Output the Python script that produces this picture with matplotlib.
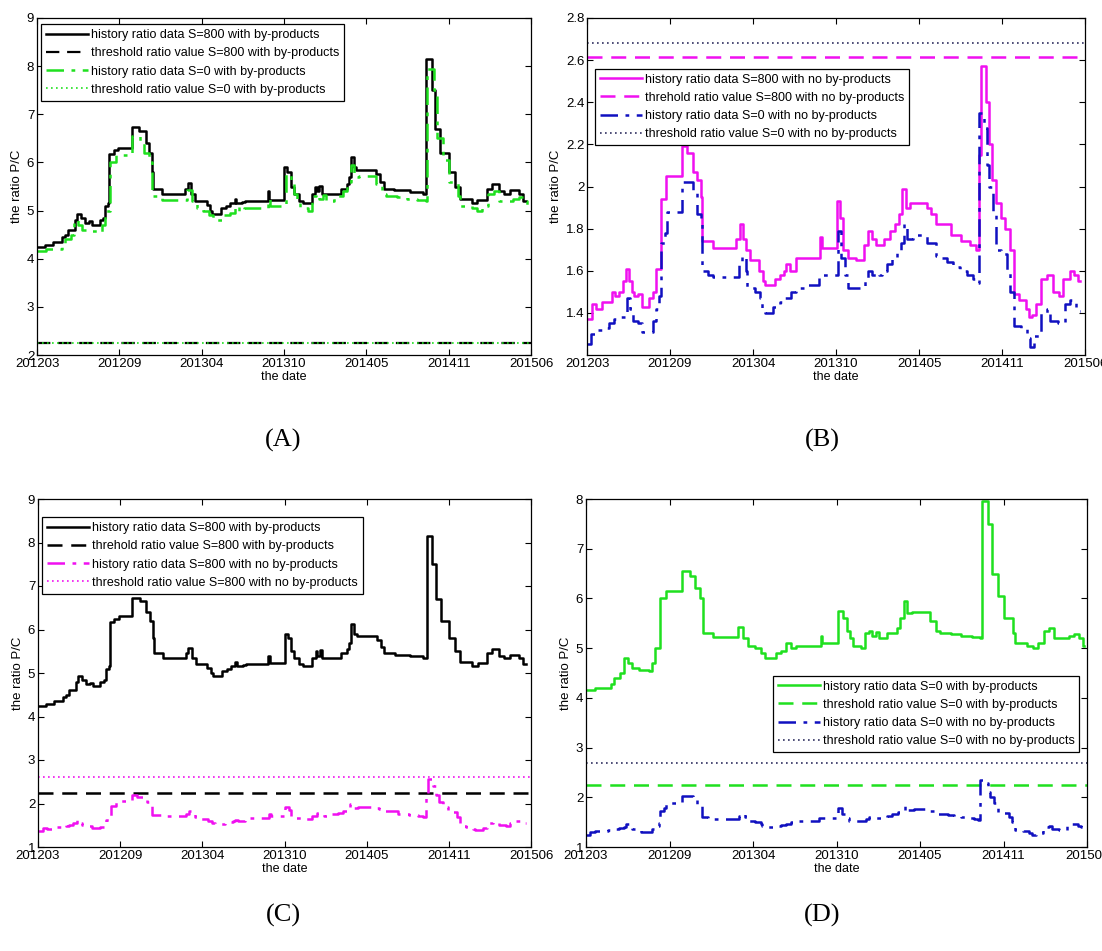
import matplotlib
matplotlib.use("Agg")
import matplotlib.pyplot as plt

plt.rcParams['font.family'] = ['Liberation Sans Narrow', 'Liberation Sans', 'DejaVu Sans']

# ---------------- data ----------------
date_labels = ['201203', '201209', '201304', '201310', '201405', '201411', '201506']

# positions are in units of the date ticks (0 = 201203 ... 6 = 201506)
s800_by_x = [0.00, 0.10, 0.19, 0.30, 0.34, 0.38, 0.46, 0.49, 0.53, 0.58, 0.63, 0.67, 0.76, 0.80,
             0.83, 0.86, 0.88, 0.93, 0.98, 1.15, 1.24, 1.32, 1.36, 1.40, 1.41, 1.52, 1.80, 1.83,
             1.87, 1.92, 2.06, 2.10, 2.13, 2.24, 2.30, 2.35, 2.40, 2.42, 2.49, 2.53, 2.80, 2.82,
             3.00, 3.04, 3.08, 3.12, 3.18, 3.23, 3.34, 3.38, 3.40, 3.43, 3.46, 3.69, 3.76, 3.79,
             3.81, 3.85, 3.88, 4.12, 4.17, 4.21, 4.34, 4.53, 4.69, 4.73, 4.80, 4.84, 4.90, 5.00,
             5.08, 5.14, 5.28, 5.35, 5.46, 5.53, 5.61, 5.67, 5.75, 5.86, 5.90, 5.94]
s800_by_y = [4.25, 4.28, 4.35, 4.45, 4.50, 4.60, 4.80, 4.93, 4.85, 4.75, 4.78, 4.70, 4.80, 4.85,
             5.10, 5.15, 6.18, 6.25, 6.30, 6.73, 6.65, 6.40, 6.20, 5.80, 5.45, 5.35, 5.45, 5.58,
             5.35, 5.20, 5.12, 5.00, 4.93, 5.05, 5.10, 5.15, 5.25, 5.15, 5.18, 5.20, 5.40, 5.22,
             5.90, 5.80, 5.50, 5.35, 5.20, 5.15, 5.35, 5.50, 5.40, 5.52, 5.35, 5.45, 5.55, 5.70,
             6.12, 5.90, 5.85, 5.75, 5.60, 5.45, 5.42, 5.38, 5.35, 8.15, 7.50, 6.70, 6.20, 5.80,
             5.50, 5.25, 5.15, 5.22, 5.45, 5.55, 5.40, 5.35, 5.42, 5.35, 5.20, 5.20]

s0_by_x = [0.00, 0.11, 0.30, 0.34, 0.41, 0.45, 0.50, 0.55, 0.63, 0.75, 0.79, 0.83, 0.89, 0.96,
           1.15, 1.25, 1.30, 1.36, 1.40, 1.52, 1.82, 1.88, 1.94, 2.02, 2.09, 2.14, 2.27, 2.34,
           2.40, 2.45, 2.52, 2.81, 2.83, 3.02, 3.08, 3.12, 3.16, 3.20, 3.29, 3.34, 3.39, 3.43,
           3.47, 3.51, 3.61, 3.72, 3.76, 3.81, 3.85, 3.91, 4.12, 4.19, 4.24, 4.37, 4.49, 4.62,
           4.72, 4.74, 4.82, 4.86, 4.93, 5.01, 5.11, 5.14, 5.28, 5.35, 5.41, 5.48, 5.55, 5.61,
           5.71, 5.78, 5.85, 5.91, 5.95, 5.97]
s0_by_y = [4.15, 4.20, 4.28, 4.40, 4.50, 4.80, 4.70, 4.60, 4.57, 4.55, 4.70, 5.00, 6.00, 6.15,
           6.55, 6.45, 6.20, 6.00, 5.30, 5.22, 5.42, 5.20, 5.05, 5.00, 4.90, 4.80, 4.90, 4.95,
           5.10, 5.00, 5.05, 5.25, 5.10, 5.75, 5.60, 5.35, 5.20, 5.05, 5.00, 5.30, 5.35, 5.25,
           5.32, 5.20, 5.30, 5.40, 5.60, 5.95, 5.70, 5.72, 5.55, 5.35, 5.30, 5.28, 5.25, 5.22,
           5.20, 7.95, 7.50, 6.50, 6.05, 5.60, 5.30, 5.10, 5.05, 5.00, 5.10, 5.35, 5.40, 5.20,
           5.20, 5.25, 5.28, 5.20, 5.05, 5.05]

s800_no_x = [0.00, 0.06, 0.11, 0.18, 0.30, 0.34, 0.38, 0.43, 0.47, 0.50, 0.54, 0.57, 0.61, 0.66,
             0.75, 0.80, 0.83, 0.89, 0.95, 1.15, 1.21, 1.28, 1.33, 1.37, 1.39, 1.52, 1.80, 1.84,
             1.88, 1.91, 1.96, 2.07, 2.12, 2.15, 2.27, 2.33, 2.37, 2.40, 2.44, 2.52, 2.81, 2.83,
             3.01, 3.05, 3.08, 3.14, 3.24, 3.34, 3.39, 3.43, 3.48, 3.58, 3.65, 3.71, 3.76, 3.80,
             3.84, 3.89, 4.10, 4.15, 4.21, 4.38, 4.51, 4.62, 4.69, 4.72, 4.75, 4.81, 4.84, 4.88,
             4.93, 4.99, 5.04, 5.10, 5.14, 5.21, 5.29, 5.32, 5.36, 5.41, 5.47, 5.54, 5.61, 5.69,
             5.74, 5.82, 5.87, 5.91, 5.94]
s800_no_y = [1.37, 1.44, 1.42, 1.45, 1.50, 1.48, 1.50, 1.55, 1.61, 1.55, 1.50, 1.48, 1.49, 1.43,
             1.47, 1.50, 1.61, 1.94, 2.05, 2.19, 2.16, 2.07, 2.03, 1.95, 1.74, 1.71, 1.75, 1.82,
             1.75, 1.70, 1.65, 1.60, 1.55, 1.53, 1.56, 1.58, 1.60, 1.63, 1.60, 1.66, 1.76, 1.71,
             1.93, 1.85, 1.70, 1.66, 1.65, 1.72, 1.79, 1.75, 1.72, 1.75, 1.79, 1.82, 1.87, 1.99,
             1.90, 1.92, 1.90, 1.87, 1.82, 1.77, 1.74, 1.72, 1.70, 2.15, 2.57, 2.40, 2.20, 2.03,
             1.92, 1.85, 1.80, 1.70, 1.49, 1.46, 1.42, 1.38, 1.39, 1.44, 1.56, 1.58, 1.50, 1.48,
             1.56, 1.60, 1.58, 1.55, 1.55]

s0_no_x = [0.00, 0.05, 0.11, 0.20, 0.26, 0.33, 0.40, 0.46, 0.48, 0.52, 0.55, 0.61, 0.66, 0.74,
           0.79, 0.83, 0.87, 0.89, 0.94, 0.96, 1.15, 1.28, 1.33, 1.37, 1.39, 1.46, 1.52, 1.83,
           1.87, 1.91, 1.93, 2.02, 2.09, 2.11, 2.15, 2.24, 2.33, 2.39, 2.46, 2.52, 2.61, 2.79,
           3.02, 3.06, 3.11, 3.15, 3.35, 3.39, 3.43, 3.48, 3.52, 3.56, 3.61, 3.67, 3.74, 3.78,
           3.82, 3.86, 3.93, 4.10, 4.21, 4.28, 4.34, 4.41, 4.49, 4.58, 4.65, 4.69, 4.72, 4.78,
           4.82, 4.84, 4.89, 4.93, 4.99, 5.06, 5.10, 5.14, 5.23, 5.30, 5.34, 5.39, 5.47, 5.54,
           5.58, 5.67, 5.76, 5.82, 5.89, 5.93, 5.94]
s0_no_y = [1.25, 1.30, 1.32, 1.33, 1.35, 1.37, 1.38, 1.40, 1.47, 1.42, 1.36, 1.35, 1.31, 1.31,
           1.36, 1.42, 1.48, 1.73, 1.78, 1.88, 2.02, 1.97, 1.87, 1.85, 1.60, 1.58, 1.57, 1.63,
           1.67, 1.60, 1.52, 1.50, 1.47, 1.42, 1.40, 1.43, 1.45, 1.47, 1.50, 1.52, 1.53, 1.58,
           1.79, 1.66, 1.58, 1.52, 1.56, 1.60, 1.58, 1.59, 1.58, 1.60, 1.63, 1.66, 1.70, 1.73,
           1.82, 1.75, 1.77, 1.73, 1.67, 1.66, 1.64, 1.62, 1.60, 1.58, 1.56, 1.54, 2.35, 2.28,
           2.10, 2.00, 1.88, 1.70, 1.68, 1.60, 1.50, 1.34, 1.33, 1.28, 1.24, 1.29, 1.40, 1.42,
           1.36, 1.35, 1.44, 1.46, 1.43, 1.41, 1.41]

thr_s800_by = 2.25
thr_s0_by = 2.25
thr_s800_no = 2.615
thr_s0_no = 2.68

# ---------------- styles ----------------
BLACK = '#000000'
GREEN = '#1fe01f'
MAGENTA = '#f010f0'
BLUE = '#1010c0'
NAVY = '#303060'
SOLID = '-'
DASH = (0, (6, 3.5))
DASHDOT = (0, (7, 3, 1.5, 3))
DOT = (0, (1, 2))

W, H = 1102, 951
fig = plt.figure(figsize=(W / 100, H / 100), dpi=100)


def make_ax(l, r, t, b):
    return fig.add_axes([l / W, 1 - b / H, (r - l) / W, (b - t) / H])


def style_ax(ax, ylim, yticks):
    ax.set_xlim(0, 6)
    ax.set_ylim(*ylim)
    ax.set_xticks(range(len(date_labels)))
    ax.set_xticklabels(date_labels)
    ax.set_yticks(yticks)
    ax.set_yticklabels(['%g' % v for v in yticks])
    ax.tick_params(direction='in', top=True, right=True, length=4, width=0.8,
                   labelsize=9.5, pad=2)
    for s in ax.spines.values():
        s.set_linewidth(0.9)
    ax.set_xlabel('the date', fontsize=9, labelpad=1)
    ax.set_ylabel('the ratio P/C', fontsize=9.5, labelpad=3)


def series(ax, x, y, color, ls, lw, label):
    ax.plot(x, y, drawstyle='steps-post', color=color, linestyle=ls, lw=lw, label=label)


def hline(ax, v, color, ls, lw, label):
    ax.plot([0, 6], [v, v], color=color, linestyle=ls, lw=lw, label=label)


def legend(ax, loc, anchor):
    lg = ax.legend(loc=loc, bbox_to_anchor=anchor, fontsize=9, frameon=True, fancybox=False,
                   edgecolor='black', framealpha=1, borderpad=0.4, labelspacing=0.5,
                   handlelength=3.4, handletextpad=0.2, borderaxespad=0)
    lg.get_frame().set_linewidth(0.9)


# (A)
axA = make_ax(37, 531, 18, 355)
series(axA, s800_by_x, s800_by_y, BLACK, SOLID, 1.8, 'history ratio data S=800 with by-products')
hline(axA, thr_s800_by, BLACK, DASH, 1.6, 'threshold ratio value S=800 with by-products')
series(axA, s0_by_x, s0_by_y, GREEN, DASHDOT, 1.8, 'history ratio data S=0 with by-products')
hline(axA, thr_s0_by, GREEN, DOT, 1.2, 'threshold ratio value S=0 with by-products')
style_ax(axA, (2, 9), range(2, 10))
legend(axA, 'upper left', (0.008, 0.982))

# (B)
axB = make_ax(587, 1085, 18, 355)
series(axB, s800_no_x, s800_no_y, MAGENTA, SOLID, 1.8, 'history ratio data S=800 with no by-products')
hline(axB, thr_s800_no, MAGENTA, DASH, 1.8, 'threhold ratio value S=800 with no by-products')
series(axB, s0_no_x, s0_no_y, BLUE, DASHDOT, 1.8, 'history ratio data S=0 with no by-products')
hline(axB, thr_s0_no, NAVY, DOT, 1.2, 'threshold ratio value S=0 with no by-products')
style_ax(axB, (1.2, 2.8), [1.4, 1.6, 1.8, 2.0, 2.2, 2.4, 2.6, 2.8])
legend(axB, 'upper left', (0.016, 0.85))

# (C)
axC = make_ax(38, 531, 499, 847)
series(axC, s800_by_x, s800_by_y, BLACK, SOLID, 1.8, 'history ratio data S=800 with by-products')
hline(axC, thr_s800_by, BLACK, DASH, 1.8, 'threhold ratio value S=800 with by-products')
series(axC, s800_no_x, s800_no_y, MAGENTA, DASHDOT, 1.8, 'history ratio data S=800 with no by-products')
hline(axC, thr_s800_no, MAGENTA, DOT, 1.2, 'threshold ratio value S=800 with no by-products')
style_ax(axC, (1, 9), range(1, 10))
legend(axC, 'upper left', (0.008, 0.948))

# (D)
axD = make_ax(586, 1087, 499, 847)
series(axD, s0_by_x, s0_by_y, GREEN, SOLID, 1.8, 'history ratio data S=0 with by-products')
hline(axD, thr_s0_by, GREEN, DASH, 1.8, 'threshold ratio value S=0 with by-products')
series(axD, s0_no_x, s0_no_y, BLUE, DASHDOT, 1.8, 'history ratio data S=0 with no by-products')
hline(axD, thr_s0_no, NAVY, DOT, 1.2, 'threshold ratio value S=0 with no by-products')
style_ax(axD, (1, 8), range(1, 9))
legend(axD, 'lower right', (0.985, 0.272))

# panel captions
for lab, xp, yp in [('(A)', 283, 440), ('(B)', 822, 440), ('(C)', 283, 915), ('(D)', 822, 915)]:
    fig.text(xp / W, 1 - yp / H, lab, ha='center', va='center', fontsize=19,
             family=['Liberation Serif', 'DejaVu Serif'])

fig.savefig('out.png', dpi=100, facecolor='white')
